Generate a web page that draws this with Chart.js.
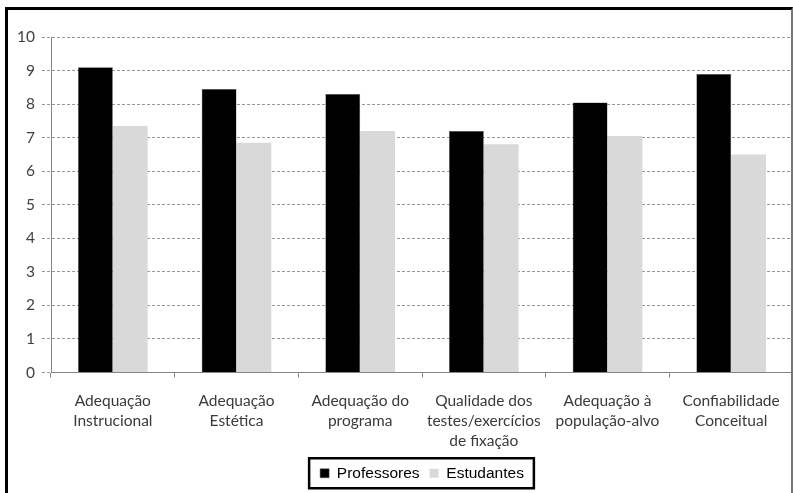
<!DOCTYPE html>
<html>
<head>
<meta charset="utf-8">
<script src="https://cdn.jsdelivr.net/npm/chart.js@4.4.1/dist/chart.umd.min.js"></script>
<style>
  html, body { margin: 0; padding: 0; background: #fff; }
  #wrap { position: relative; width: 793px; height: 493px; overflow: hidden; }
  #grafico { position: absolute; left: 0; top: 0; }
  /* moldura do gráfico (a borda de baixo fica fora da imagem) */
  #moldura {
    position: absolute; left: 5px; top: 7px; width: 788px; height: 500px;
    box-sizing: border-box; pointer-events: none;
    border-left: 3px solid #000; border-top: 3px solid #000; border-right: 2px solid #777;
  }
</style>
</head>
<body>
<div id="wrap">
  <canvas id="grafico" width="793" height="493"></canvas>
  <div id="moldura"></div>
</div>
<script>
const categorias = [
  ['Adequação', 'Instrucional'],
  ['Adequação', 'Estética'],
  ['Adequação do', 'programa'],
  ['Qualidade dos', 'testes/exercícios', 'de fixação'],
  ['Adequação à', 'população-alvo'],
  ['Confiabilidade', 'Conceitual']
];
const professores = [9.1, 8.45, 8.3, 7.2, 8.05, 8.9];
const estudantes = [7.35, 6.85, 7.2, 6.8, 7.05, 6.5];
const ticksY = [0, 1, 2, 3, 4, 5, 6, 7, 8, 9, 10];

// caixa com borda em volta da legenda
const bordaLegenda = {
  id: 'bordaLegenda',
  afterDraw(chart) {
    const caixas = chart.legend && chart.legend.legendHitBoxes;
    if (!caixas || !caixas.length) return;
    const esq = Math.min(...caixas.map(c => c.left)) - 11;
    const dir = Math.max(...caixas.map(c => c.left + c.width)) + 10;
    const meio = caixas[0].top + caixas[0].height / 2;
    const ctx = chart.ctx;
    ctx.save();
    ctx.strokeStyle = '#000';
    ctx.lineWidth = 2.5;
    ctx.strokeRect(esq, meio - 15, dir - esq, 30);
    ctx.restore();
  }
};

const ctx = document.getElementById('grafico').getContext('2d');
new Chart(ctx, {
  type: 'bar',
  data: {
    labels: categorias,
    datasets: [
      {
        label: 'Professores',
        data: professores,
        backgroundColor: '#000000',
        borderColor: '#555',
        borderWidth: 0.5,
        categoryPercentage: 0.563,
        barPercentage: 1
      },
      {
        label: 'Estudantes',
        data: estudantes,
        backgroundColor: '#d9d9d9',
        borderWidth: 0,
        categoryPercentage: 0.563,
        barPercentage: 1
      }
    ]
  },
  options: {
    responsive: false,
    animation: false,
    layout: { padding: { top: 37, left: 0, right: -4, bottom: 2 } },
    plugins: {
      tooltip: { enabled: false },
      legend: {
        position: 'bottom',
        fullSize: false,
        labels: {
          boxWidth: 9,
          boxHeight: 9,
          padding: 10,
          color: '#000',
          font: { family: '"Liberation Sans", Arial, sans-serif', size: 15.5 }
        }
      }
    },
    scales: {
      x: {
        grid: {
          drawOnChartArea: false,
          drawTicks: true,
          tickLength: 5,
          color: '#868686'
        },
        border: { color: '#868686', width: 1 },
        ticks: {
          maxRotation: 0,
          autoSkip: false,
          padding: 13,
          color: '#3a3a3a',
          font: { family: 'Lato, sans-serif', size: 15.5, lineHeight: '20px' }
        },
        afterFit(scale) { scale.height = 83; }
      },
      y: {
        min: 0,
        max: 10,
        afterBuildTicks(scale) { scale.ticks = ticksY.map(v => ({ value: v })); },
        grid: {
          color: '#999',
          tickColor: '#999',
          tickLength: 9,
          tickBorderDash: [3, 2]
        },
        // em v4, border.dash tracejia as linhas de grade
        border: { color: '#868686', width: 1, dash: [3, 2] },
        ticks: {
          padding: 7,
          color: '#404040',
          font: { family: 'Lato, sans-serif', size: 15.5 }
        },
        afterFit(scale) { scale.width = 51; }
      }
    }
  },
  plugins: [bordaLegenda]
});
</script>
</body>
</html>
